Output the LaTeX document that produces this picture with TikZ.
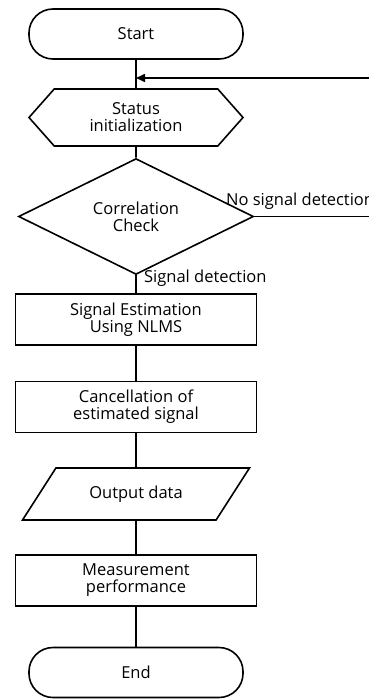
\documentclass[tikz,border=0pt]{standalone}
\usepackage{fontspec}
\setmainfont{Open Sans}
\usetikzlibrary{arrows.meta, shapes.geometric, shapes.symbols, positioning}

\begin{document}
\begin{tikzpicture}[x=1pt, y=-1pt, line width=1.6pt, font=\fontsize{16.5}{17}\selectfont,
    term/.style = {draw, rectangle, rounded corners=24pt, minimum width=214pt, minimum height=50pt},
    prep/.style = {draw, signal, signal to=west and east, signal pointer angle=97, minimum width=214pt, minimum height=57pt, align=center, inner sep=1pt},
    decide/.style = {draw, diamond, minimum width=235pt, minimum height=81pt, inner sep=0pt, align=center},
    proc/.style = {draw, rectangle, minimum width=241pt, minimum height=51pt, inner sep=2pt, align=center},
    io/.style = {draw, trapezium, trapezium left angle=48, trapezium right angle=132, trapezium stretches=true, minimum width=227pt, minimum height=52pt}]
    \fill[white] (0,0) rectangle (369,699);
    \useasboundingbox (0,0) rectangle (369,699);

    \node[term] (start) at (136,34) {Start};
    \coordinate[below of=start, node distance=44pt] (join);
    \node[prep] (init) [below of=start, node distance=83.5pt] {Status\\initialization};
    \node[decide] (check) [below of=init, node distance=99pt] {Correlation\\Check};
    \node[proc] (est) [below of=check, node distance=103pt] {Signal Estimation\\Using NLMS};
    \node[proc] (cancel) [below of=est, node distance=87.5pt] {Cancellation of\\estimated signal};
    \node[io] (out) [below of=cancel, node distance=87pt] {Output data};
    \node[proc] (meas) [below of=out, node distance=86.5pt] {Measurement\\performance};
    \node[term] (end) [below of=meas, node distance=92pt] {End};
    \coordinate (turn) at (400,216.5);
    \node[anchor=base west] (nosig) at (222,205) {No signal detection};

    \draw (start) -- (init);
    \draw (init) -- (check);
    \draw (check) -- node[right, xshift=4pt, yshift=6pt] {Signal detection} (est);
    \draw (est) -- (cancel);
    \draw (cancel) -- (out);
    \draw (out) -- (meas);
    \draw (meas) -- (end);
    \draw[-{Triangle[length=9pt, width=8pt]}] (check.east) -- (turn) |- (join);
\end{tikzpicture}
\end{document}
